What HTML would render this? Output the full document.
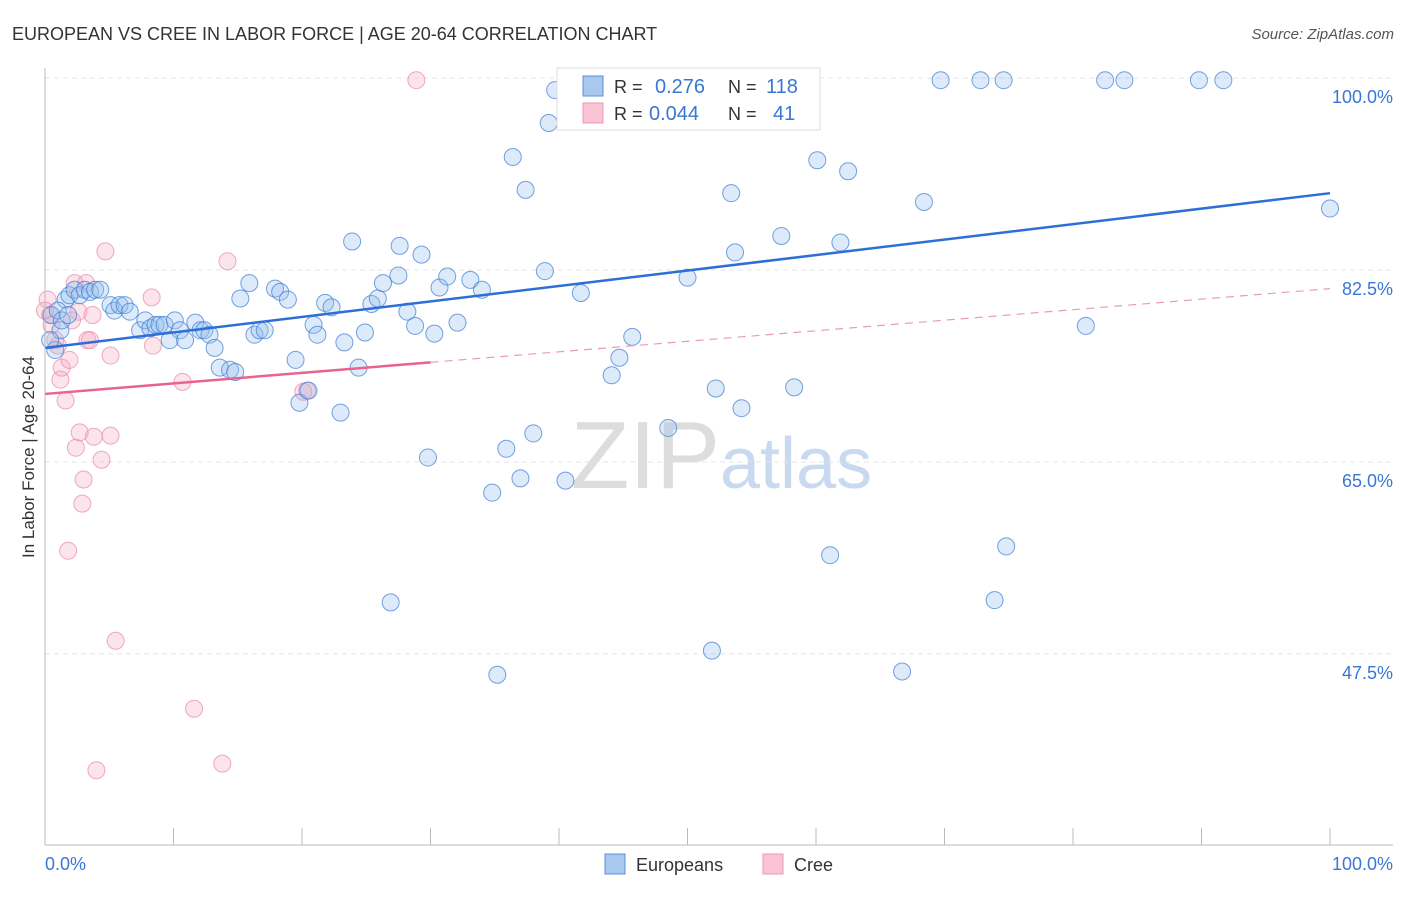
<!DOCTYPE html>
<html><head><meta charset="utf-8"><style>
body{margin:0;background:#fff;font-family:"Liberation Sans",sans-serif}
svg text{font-family:"Liberation Sans",sans-serif}
</style></head><body>
<svg id="c" width="1406" height="892">
<text x="12" y="40" font-size="18" fill="#333">EUROPEAN VS CREE IN LABOR FORCE | AGE 20-64 CORRELATION CHART</text>
<text x="1394" y="39" font-size="15" fill="#555" text-anchor="end" font-style="italic">Source: ZipAtlas.com</text>
<text x="34" y="457" font-size="17" fill="#333" text-anchor="middle" transform="rotate(-90 34 457)">In Labor Force | Age 20-64</text>
<text x="720" y="488" font-size="96" fill="#ddd" text-anchor="end" font-family="Liberation Serif">ZIP</text>
<text x="720" y="488" font-size="72" fill="#c9daf0">atlas</text>
<g id="grid"></g><g id="marks"></g><g id="lines"></g>
<line x1="45" y1="68" x2="45" y2="845" stroke="#bbb"/>
<line x1="45" y1="845" x2="1393" y2="845" stroke="#bbb"/>
<text x="45" y="870" font-size="18" fill="#3a76d4">0.0%</text>
<text x="1393" y="870" font-size="18" fill="#3a76d4" text-anchor="end">100.0%</text>
<g>
<rect x="557" y="68" width="263" height="62" fill="#fff" stroke="#ddd"/>
<rect x="583" y="76" width="20" height="20" fill="#a9c8ef" stroke="#5b8fd8"/>
<rect x="583" y="103" width="20" height="20" fill="#f8c3d3" stroke="#ee9ab5"/>
<text x="614" y="93" font-size="18" fill="#333">R = </text><text x="655" y="93" font-size="20" fill="#3a76d4">0.276</text>
<text x="728" y="93" font-size="18" fill="#333">N = </text><text x="766" y="93" font-size="20" fill="#3a76d4">118</text>
<text x="614" y="120" font-size="18" fill="#333">R = </text><text x="649" y="120" font-size="20" fill="#3a76d4">0.044</text>
<text x="728" y="120" font-size="18" fill="#333">N = </text><text x="773" y="120" font-size="20" fill="#3a76d4">41</text>
</g>
<g>
<rect x="605" y="854" width="20" height="20" fill="#a9c8ef" stroke="#5b8fd8"/>
<text x="636" y="871" font-size="18" fill="#333">Europeans</text>
<rect x="763" y="854" width="20" height="20" fill="#f8c3d3" stroke="#ee9ab5"/>
<text x="794" y="871" font-size="18" fill="#333">Cree</text>
</g>
</svg>
<script>
const yTicks=[100,82.5,65,47.5];
const xTickVals=[0,10,20,30,40,50,60,70,80,90,100];
const blueX=[0.8,1.2,1.6,1.9,2.3,2.7,3.1,3.5,3.9,4.3,5.1,5.4,5.8,6.2,6.6,7.4,7.8,8.2,8.6,8.9,9.3,9.7,10.1,10.5,10.9,11.7,12.1,12.4,12.8,13.2,13.6,14.4,14.8,15.2,15.9,16.3,16.7,17.1,17.9,18.3,18.9,19.5,19.8,20.5,20.9,21.2,21.8,22.3,23.0,23.3,23.9,24.4,24.9,25.4,25.9,26.3,27.5,27.6,28.2,28.8,29.3,29.8,30.3,30.7,31.3,32.1,33.1,34.0,34.8,35.9,36.4,37.0,37.4,38.0,38.9,39.2,39.7,40.5,41.5,41.7,44.1,44.7,45.7,48.5,49.2,50.0,51.9,52.2,53.4,53.7,54.2,56.0,57.3,58.3,60.1,61.1,61.9,62.5,66.7,68.4,69.7,72.8,73.9,74.6,74.8,81.0,82.5,84.0,89.8,91.7,100,26.9,35.2,0.5,0.4,1.0,1.3,1.8];
const blueY=[75.2,77.0,79.8,80.2,80.7,80.2,80.7,80.5,80.7,80.7,79.3,78.8,79.3,79.3,78.7,77.0,77.9,77.2,77.5,77.5,77.5,76.1,77.9,77.0,76.1,77.7,77.0,77.0,76.6,75.4,73.6,73.4,73.2,79.9,81.3,76.6,77.0,77.0,80.8,80.5,79.8,74.3,70.4,71.5,77.5,76.6,79.5,79.1,69.5,75.9,85.1,73.6,76.8,79.4,79.9,81.3,82.0,84.7,78.7,77.4,83.9,65.4,76.7,80.9,81.9,77.7,81.6,80.7,62.2,66.2,92.8,63.5,89.8,67.6,82.4,95.9,98.9,63.3,99.8,80.4,72.9,74.5,76.4,68.1,99.8,81.8,47.8,71.7,89.5,84.1,69.9,99.8,85.6,71.8,92.5,56.5,85.0,91.5,45.9,88.7,99.8,99.8,52.4,99.8,57.3,77.4,99.8,99.8,99.8,99.8,88.1,52.2,45.6,78.4,76.1,78.8,77.9,78.4];
const pinkX=[0.2,0.4,0.5,0.8,1.0,1.2,1.3,1.6,1.8,1.9,2.1,2.3,2.4,2.6,2.7,2.9,3.0,3.2,3.3,3.5,3.7,3.8,4.0,4.4,4.7,5.1,5.1,5.5,8.3,8.4,10.7,11.6,13.8,14.2,20.1,20.4,28.9,0.0];
const pinkY=[79.8,78.4,77.5,76.1,75.6,72.5,73.6,70.6,56.9,74.3,77.9,81.3,66.3,78.7,67.7,61.2,63.4,81.3,76.1,76.1,78.4,67.3,36.9,65.2,84.2,74.7,67.4,48.7,80.0,75.6,72.3,42.5,37.5,83.3,71.4,71.5,99.8,78.8];
const blueTrend=[75.4,89.5];
const pinkTrend=[71.2,80.8];
const NS='http://www.w3.org/2000/svg';
const sx=v=>45+v*12.85, sy=v=>78+(100-v)*10.97;
function mk(t,a,p){const e=document.createElementNS(NS,t);for(const k in a)e.setAttribute(k,a[k]);p.appendChild(e);return e;}
const grid=document.getElementById('grid'),marks=document.getElementById('marks'),lines=document.getElementById('lines'),svg=document.getElementById('c');
yTicks.forEach(v=>{
 const l=mk('line',{x1:45,y1:sy(v),x2:1393,y2:sy(v),stroke:'#e4e4e4','stroke-dasharray':'5,4'},grid);
 
 
 const t=mk('text',{x:1393,y:sy(v)+25,'font-size':18,fill:'#3a76d4','text-anchor':'end'},svg);
 t.textContent=v.toFixed(1)+'%';
 
 
});
xTickVals.forEach(v=>{
 const l=mk('line',{x1:sx(v),y1:828,x2:sx(v),y2:845,stroke:'#bbb'},grid);
 
 
});
pinkX.forEach((x,i)=>{
 const c=mk('circle',{cx:sx(x),cy:sy(pinkY[i]),r:8.5,fill:'rgba(245,165,190,0.3)',stroke:'rgba(236,140,172,0.75)','stroke-width':1},marks);
 
 
});
blueX.forEach((x,i)=>{
 const c=mk('circle',{cx:sx(x),cy:sy(blueY[i]),r:8.5,fill:'rgba(150,190,235,0.32)',stroke:'rgba(70,130,215,0.75)','stroke-width':1},marks);
 
 
});
const bl=mk('line',{x1:sx(0),y1:sy(blueTrend[0]),x2:sx(100),y2:sy(blueTrend[1]),stroke:'#2d6fd6','stroke-width':2.5},lines);


const pe=v=>pinkTrend[0]+(pinkTrend[1]-pinkTrend[0])*v/100;
const pl=mk('line',{x1:sx(0),y1:sy(pe(0)),x2:sx(30),y2:sy(pe(30)),stroke:'#e8638e','stroke-width':2.5},lines);


const pd=mk('line',{x1:sx(30),y1:sy(pe(30)),x2:sx(100),y2:sy(pe(100)),stroke:'#eb9ab5','stroke-width':1.2,'stroke-dasharray':'8,6'},lines);


</script>
</body></html>
